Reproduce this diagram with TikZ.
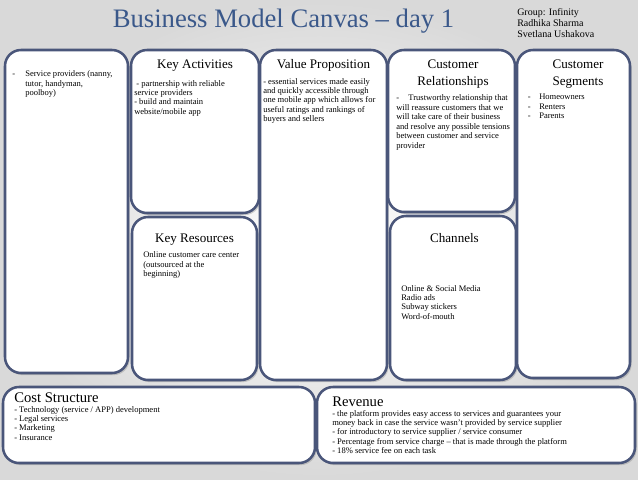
\documentclass[tikz,border=0pt]{standalone}
\usepackage{fontspec}
\setmainfont{Liberation Serif}
\usetikzlibrary{shadows,positioning}
\definecolor{titleblue}{RGB}{58,88,138}
\definecolor{boxline}{RGB}{74,86,122}
\tikzset{
  canvasbox/.style={draw=boxline, line width=1.9pt, fill=white, rounded corners=12pt,
    anchor=north west, inner sep=0pt, outer sep=0pt,
    drop shadow={shadow xshift=1.2pt, shadow yshift=-1.6pt, opacity=0.35}},
  boxhead/.style={font=\fontsize{9.8}{11.5}\selectfont, anchor=base, inner sep=0pt},
  bighead/.style={font=\fontsize{11}{13}\selectfont, anchor=base west, inner sep=0pt},
  boxtext/.style={font=\fontsize{6.4}{7.1}\selectfont, align=left, anchor=base west, inner sep=0pt},
}
\begin{document}
\begin{tikzpicture}[x=0.75pt, y=-0.75pt]
    \useasboundingbox (0,0) rectangle (638,479) ;
    \shade [inner color=white, outer color=black!15] (0,0) rectangle (638,479) ;

    \node [font=\fontsize{20}{23}\selectfont, text=titleblue, anchor=base, inner sep=0pt] (title) at (283.5,27) {Business Model Canvas – day 1} ;
    % multi-line nodes sit on the baseline of their last line
    \node [font=\fontsize{7.5}{8}\selectfont, align=left, anchor=base west, inner sep=0pt] (group) at (517,37.3) {Group: Infinity\\Radhika Sharma\\Svetlana Ushakova} ;

    \node [canvasbox, minimum width=123*0.75pt, minimum height=323*0.75pt] (kp) at (5,50) {} ;
    \node [canvasbox, minimum width=128*0.75pt, minimum height=163*0.75pt] (ka) at (131,50) {} ;
    \node [canvasbox, minimum width=125*0.75pt, minimum height=163*0.75pt] (kr) at (132,217) {} ;
    \node [canvasbox, minimum width=127*0.75pt, minimum height=330*0.75pt] (vp) at (260,50) {} ;
    \node [canvasbox, minimum width=127*0.75pt, minimum height=162*0.75pt] (cr) at (388,50) {} ;
    \node [canvasbox, minimum width=126*0.75pt, minimum height=164*0.75pt] (ch) at (390,216) {} ;
    \node [canvasbox, minimum width=113*0.75pt, minimum height=328*0.75pt] (cs) at (517,50) {} ;
    \node [canvasbox, minimum width=312*0.75pt, minimum height=76*0.75pt] (cost) at (3,387) {} ;
    \node [canvasbox, minimum width=318*0.75pt, minimum height=76*0.75pt] (rev) at (317,387) {} ;

    \node [boxhead] (kahead) at (195,68) {Key Activities} ;
    \node [boxhead] (vphead) at (323.5,68) {Value Proposition} ;
    \node [boxhead] (crhead) at (453,68) {Customer} ;
    \node [boxhead] (crheadb) at (453,85) {Relationships} ;
    \node [boxhead] (cshead) at (578,68) {Customer} ;
    \node [boxhead] (csheadb) at (578,85) {Segments} ;
    \node [boxhead] (krhead) at (194.5,242) {Key Resources} ;
    \node [boxhead] (chhead) at (454.5,242) {Channels} ;
    \node [bighead] (costhead) at (14,402) {Cost Structure} ;
    \node [bighead] (revhead) at (332,406) {Revenue} ;

    \node [boxtext] (kptext) at (25,95.9) {\llap{-\hspace{7.5pt}}Service providers (nanny,\\tutor, handyman,\\poolboy)} ;
    \node [boxtext] (katext) at (134,114.4) {\ - partnership with reliable\\service providers\\- build and maintain\\website/mobile app} ;
    \node [boxtext] (vptext) at (263,121.9) {- essential services made easily\\and quickly accessible through\\one mobile app which allows for\\useful ratings and rankings of\\buyers and sellers} ;
    \node [boxtext] (crtext) at (396,148.3) {-\hspace{7pt}Trustworthy relationship that\\will reassure customers that we\\will take care of their business\\and resolve any possible tensions\\between customer and service\\provider} ;
    \node [boxtext] (cstext) at (539,118.9) {\llap{-\hspace{6.4pt}}Homeowners\\\llap{-\hspace{6.4pt}}Renters\\\llap{-\hspace{6.4pt}}Parents} ;
    \node [boxtext] (krtext) at (143,276.9) {Online customer care center\\(outsourced at the\\beginning)} ;
    \node [boxtext] (chtext) at (401,319.4) {Online \& Social Media\\Radio ads\\Subway stickers\\Word-of-mouth} ;
    \node [boxtext] (costtext) at (14,440.4) {- Technology (service / APP) development\\- Legal services\\- Marketing\\- Insurance} ;
    \node [boxtext] (revtext) at (332,453.9) {- the platform provides easy access to services and guarantees your\\money back in case the service wasn't provided by service supplier\\- for introductory to service supplier / service consumer\\- Percentage from service charge – that is made through the platform\\- 18\% service fee on each task} ;
\end{tikzpicture}
\end{document}
